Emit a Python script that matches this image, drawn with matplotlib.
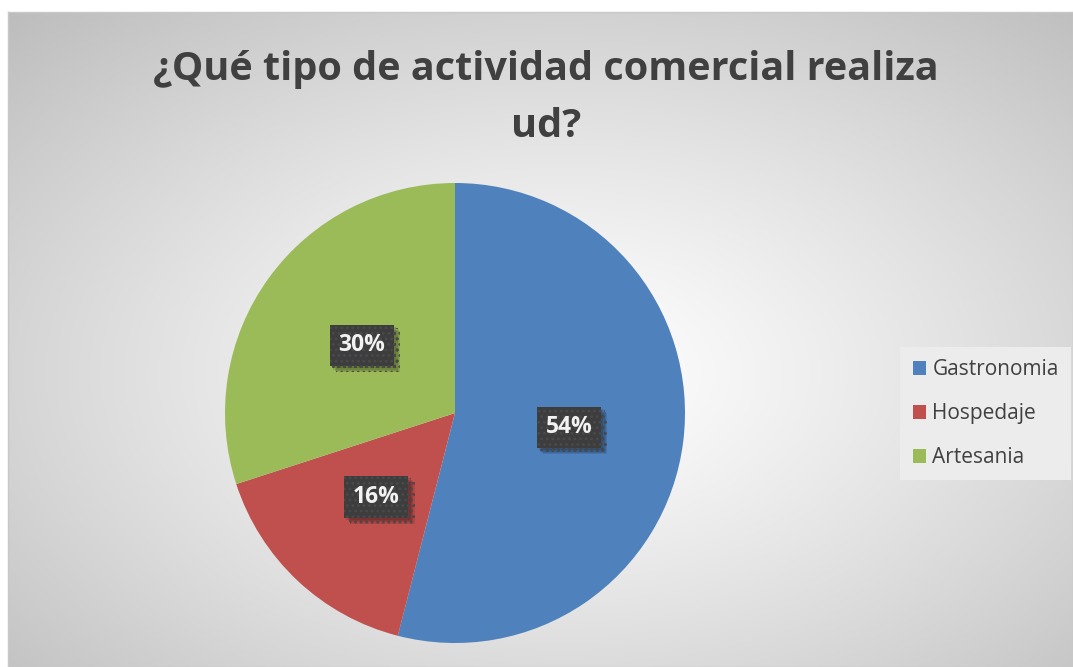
import numpy as np
import matplotlib
matplotlib.use("Agg")
import matplotlib.pyplot as plt
import matplotlib.patheffects as pe

# data
categorias = ["Gastronomia", "Hospedaje", "Artesania"]
porcentajes = [54, 16, 30]
colores = ["#4F81BD", "#C0504D", "#9BBB59"]
titulo = "¿Qué tipo de actividad comercial realiza\nud?"

plt.rcParams["hatch.linewidth"] = 1.2

W, H = 1073, 667
fig = plt.figure(figsize=(W / 100, H / 100), dpi=100)
fig.patch.set_facecolor("white")

# chart area with radial gradient background
bg = fig.add_axes([8 / W, 0, (W - 8) / W, (H - 12) / H], zorder=0)
ny, nx = 300, 480
yy, xx = np.mgrid[0:ny, 0:nx]
cx, cy = nx * 0.52, ny * 0.55
r = np.sqrt(((xx - cx) / (nx / 2)) ** 2 + ((yy - cy) / (ny / 2)) ** 2) / np.sqrt(2)
v = 1 - 0.24 * np.clip(r, 0, 1.2) ** 1.2
bg.imshow(np.dstack([v, v, v]), aspect="auto", extent=[0, 1, 0, 1], origin="upper")
bg.set_xticks([])
bg.set_yticks([])
for s in bg.spines.values():
    s.set_color("#c8c8c8")
    s.set_linewidth(1)

fig.text(546 / W, 1 - 98 / H, titulo, ha="center", va="center",
         fontsize=28.5, fontweight="bold", color="#404040",
         family="Open Sans", linespacing=1.58)

# pie
cxp, cyp, rad = 455, 413, 230
ax = fig.add_axes([(cxp - rad) / W, (H - cyp - rad) / H, 2 * rad / W, 2 * rad / H], zorder=1)
wedges, texts, autotexts = ax.pie(porcentajes, colors=colores, startangle=90,
                                  counterclock=False, autopct="%d%%",
                                  pctdistance=0.5, wedgeprops=dict(linewidth=0))
ax.set_xlim(-1, 1)
ax.set_ylim(-1, 1)
ax.set_aspect("equal")

sombra = [pe.SimplePatchShadow(offset=(d, -d), shadow_rgbFace="black", alpha=0.1)
          for d in (1.5, 2.5, 3.5, 4.5)]
for t in autotexts:
    t.set_fontsize(16.5)
    t.set_fontweight("bold")
    t.set_family("Open Sans")
    t.set_color("#f2f2f2")
    t.set_bbox(dict(boxstyle="square,pad=0.38", facecolor="#3d3d3d",
                    edgecolor="#4a4a4a", linewidth=0, hatch="..."))
    t.get_bbox_patch().set_path_effects(sombra + [pe.Normal()])

leg = fig.legend(wedges, categorias, loc="center left",
                 bbox_to_anchor=(900 / W, (H - 413.5) / H),
                 frameon=True, fancybox=False, framealpha=1,
                 facecolor="#ececec", edgecolor="none",
                 prop={"family": "Open Sans", "size": 15},
                 handlelength=0.65, handleheight=0.65, handletextpad=0.3,
                 labelspacing=1.1, borderpad=0.6, borderaxespad=0)
for txt in leg.get_texts():
    txt.set_color("#404040")

fig.savefig("out.png", dpi=100)
